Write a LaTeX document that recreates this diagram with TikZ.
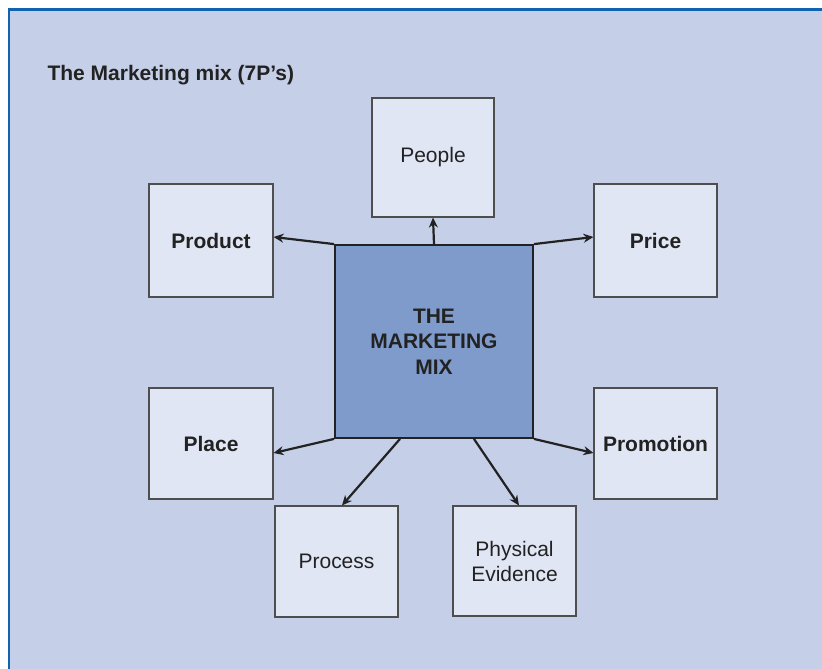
\documentclass[tikz,border=0pt]{standalone}
\usepackage{fontspec}
\setmainfont{Liberation Sans}
\usetikzlibrary{arrows.meta,calc}
\definecolor{bgblue}{HTML}{C5CFE8}
\definecolor{boxfill}{HTML}{E0E6F3}
\definecolor{centerfill}{HTML}{7F9BCB}
\definecolor{framblue}{HTML}{1262B2}
\definecolor{ink}{HTML}{222222}
\begin{document}
\begin{tikzpicture}[x=1pt,y=-1pt,
  pbox/.style={draw=ink!80, line width=1.1pt, fill=boxfill, text=ink, align=center, font=\fontsize{21}{25}\selectfont},
  bbox/.style={pbox, font=\fontsize{21}{25}\selectfont\bfseries},
  conn/.style={draw=ink, line width=2.2pt, -{Stealth[length=10pt,width=9pt]}}]
\useasboundingbox (0,0) rectangle (822,669);
\fill[white] (0,0) rectangle (822,669);
\fill[bgblue] (9,9) rectangle (822,669);
\draw[framblue, line width=2.5pt] (9,669) -- (9,9.5) -- (822,9.5);
\node[anchor=west, text=ink, font=\fontsize{21}{25}\selectfont\bfseries] (title) at (44,75) {The Marketing mix (7P’s)};
% boxes
\node[pbox, minimum width=122, minimum height=119] (people) at (433,157.5) {People};
\node[bbox, minimum width=124, minimum height=113] (product) at (211,240.5) {Product};
\node[bbox, minimum width=123, minimum height=113] (price) at (655.5,240.5) {Price};
\node[bbox, minimum width=124, minimum height=111] (place) at (211,443.5) {Place};
\node[bbox, minimum width=123, minimum height=111] (promotion) at (655.5,443.5) {Promotion};
\node[pbox, minimum width=123, minimum height=111] (process) at (336.5,561.5) {Process};
\node[pbox, minimum width=123, minimum height=110] (physical) at (514.5,561) {Physical\\Evidence};
\node[draw=ink, line width=1.8pt, fill=centerfill, text=ink, align=center,
  font=\fontsize{21}{25.5}\selectfont\bfseries, minimum width=198, minimum height=193] (mix) at (434,341.5) {THE\\MARKETING\\MIX};
% connectors
\coordinate (mixpl) at ($(mix.south west)!0.33!(mix.south east)$);
\coordinate (mixph) at ($(mix.south west)!0.70!(mix.south east)$);
\draw[conn] (mix.north) -- (people.south);
\draw[conn] (mix.north west) -- (product.east |- 0,237);
\draw[conn] (mix.north east) -- (price.west |- 0,237);
\draw[conn] (mix.south west) -- (place.east |- 0,453);
\draw[conn] (mix.south east) -- (promotion.west |- 0,453);
\draw[conn] (mixpl) -- ($(process.north)+(5.5,0)$);
\draw[conn] (mixph) -- ($(physical.north)+(4.5,0)$);
\end{tikzpicture}
\end{document}
